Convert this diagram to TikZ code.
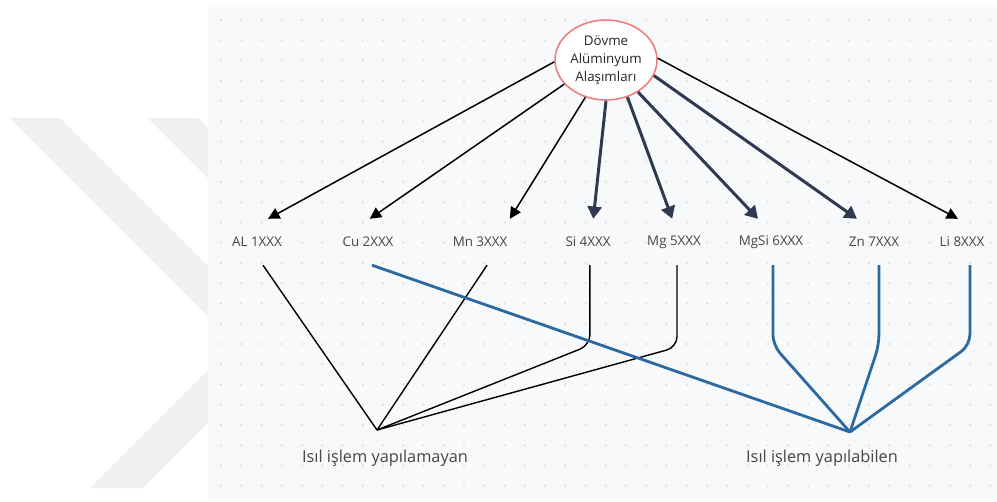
\documentclass[tikz,border=0pt]{standalone}
\usepackage{fontspec}
\setmainfont{Open Sans}
\usetikzlibrary{shapes.geometric, arrows.meta}
\definecolor{panelbg}{RGB}{248,249,251}
\definecolor{dotgray}{RGB}{218,220,226}
\definecolor{markgray}{RGB}{239,239,239}
\definecolor{pinkred}{RGB}{240,125,125}
\definecolor{slate}{RGB}{47,58,80}
\definecolor{hotblue}{RGB}{44,105,160}
\definecolor{labelgray}{RGB}{70,70,70}

\begin{document}
\begin{tikzpicture}[x=0.02cm, y=-0.02cm,
    alloy/.style={text=labelgray, font=\fontsize{7.6}{9}\selectfont, minimum height=26pt, inner sep=0pt},
    group/.style={text=labelgray, font=\fontsize{9.3}{11}\selectfont, inner sep=0pt},
    thinarrow/.style={draw=black, line width=0.85pt, -{Triangle[length=6.5pt,width=6.5pt]}},
    thickarrow/.style={draw=slate, line width=1.7pt, -{Triangle[length=7pt,width=8pt]}},
    coldline/.style={draw=black, line width=0.8pt, rounded corners=6pt},
    hotline/.style={draw=hotblue, line width=1.6pt, rounded corners=6pt}]
            \useasboundingbox (0,0) rectangle (997,501);
            \fill[markgray] (10,118) -- (60,118) -- (286,344) -- (143,488) -- (90,488) -- (235,343) -- cycle;
            \fill[markgray] (148,118) -- (198,118) -- (424,344) -- (281,488) -- (228,488) -- (373,343) -- cycle;
            \fill[panelbg] (208,5) rectangle (997,501);
            \foreach \i in {0,...,38} {
                \foreach \j in {0,...,23} {
                    \fill[dotgray] (221+20.25*\i, 20+20.25*\j) circle (0.6pt);
                }
            }
            \node[ellipse, draw=pinkred, fill=white, line width=0.9pt, minimum width=58pt, minimum height=45.5pt, inner sep=0pt, align=center, font=\fontsize{7.6}{10.2}\selectfont, text=black!85] (top) at (606,60) {Dövme\\Alüminyum\\Alaşımları};
            \node[alloy] at (257,242) (al) {AL 1XXX};
            \node[alloy] at (368,242) (cu) {Cu 2XXX};
            \node[alloy] at (480,242) (mn) {Mn 3XXX};
            \node[alloy] at (588,242) (si) {Si 4XXX};
            \node[alloy] at (674,242) (mg) {Mg 5XXX};
            \node[alloy] at (771,242) (mgsi) {MgSi 6XXX};
            \node[alloy] at (874,242) (zn) {Zn 7XXX};
            \node[alloy] at (962,242) (li) {Li 8XXX};
            \draw[thinarrow] (top.182) -- ([xshift=6.3pt]al.north);
            \draw[thinarrow] (top.210) -- ([xshift=1pt]cu.north);
            \draw[thinarrow] (top.241) -- ([xshift=17pt]mn.north);
            \draw[thickarrow] (top.270) -- ([xshift=3pt]si.north);
            \draw[thickarrow] (top.300) -- ([xshift=-1pt]mg.north);
            \draw[thickarrow] (top.315) -- ([xshift=-7.4pt]mgsi.north);
            \draw[thickarrow] (top.342) -- ([xshift=-9.7pt]zn.north);
            \draw[thinarrow] (top.2) -- ([xshift=-2.3pt]li.north);
            \coordinate (cold) at (377,430);
            \coordinate (hot) at (850,432);
            \draw[coldline] ([xshift=3.4pt]al.south) -- (cold);
            \draw[coldline] ([xshift=4pt]mn.south) -- (cold);
            \draw[coldline] ([xshift=1.1pt]si.south) -- ++(0,80) -- (cold);
            \draw[coldline] ([xshift=1.7pt]mg.south) -- ++(0,82) -- (cold);
            \draw[hotline] ([xshift=2.3pt]cu.south) -- (hot);
            \draw[hotline] ([xshift=1.1pt]mgsi.south) -- ++(0,80) -- (hot);
            \draw[hotline] ([xshift=2.8pt]zn.south) -- ++(0,80) -- (hot);
            \draw[hotline] ([xshift=4.5pt]li.south) -- ++(0,80) -- (hot);
            \node[group] at (385,458) (coldtext) {Isıl işlem yapılamayan};
            \node[group] at (822,458) (hottext) {Isıl işlem yapılabilen};
        \end{tikzpicture}
\end{document}
